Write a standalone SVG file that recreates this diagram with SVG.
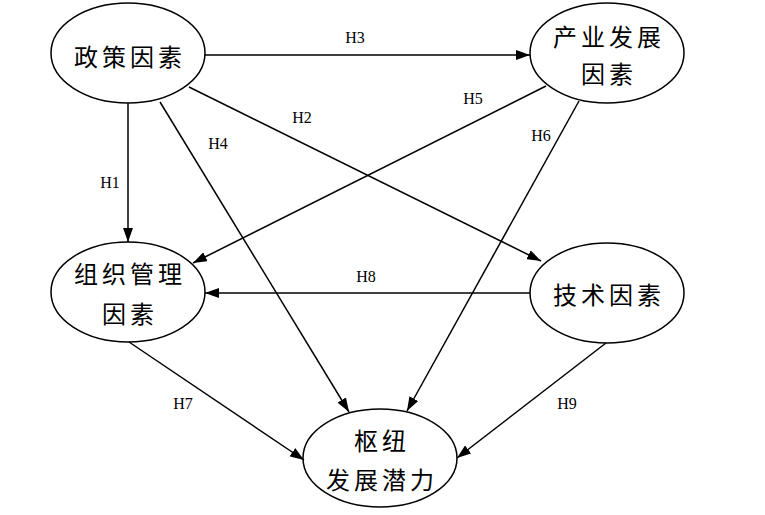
<svg xmlns="http://www.w3.org/2000/svg" width="765" height="515" viewBox="0 0 765 515">
<style>
.node ellipse{fill:#fff;stroke:#000;stroke-width:1.5}
.node text{font-family:"Noto Sans CJK SC","Noto Sans CJK TC",serif;font-size:24px;fill:#000;text-anchor:middle;dominant-baseline:central;letter-spacing:4px}
.edges line{stroke:#000;stroke-width:1.5;marker-end:url(#ah)}
.lbl{font-family:"Liberation Serif",serif;font-size:16px;fill:#000;text-anchor:middle;dominant-baseline:central}
</style>
<defs>
<marker id="ah" markerWidth="14" markerHeight="10" refX="14" refY="5" orient="auto" markerUnits="userSpaceOnUse">
<path d="M0,0 L14,5 L0,10 Z" fill="#000"/>
</marker>
</defs>
<rect width="765" height="515" fill="#fff"/>
<g id="policy" class="node">
<ellipse cx="128" cy="53" rx="77" ry="50"/>
<text x="130" y="55">政策因素</text>
</g>
<g id="industry" class="node">
<ellipse cx="607" cy="53" rx="77" ry="50"/>
<text x="609" y="35">产业发展</text>
<text x="609" y="72">因素</text>
</g>
<g id="org" class="node">
<ellipse cx="128" cy="292" rx="77" ry="50"/>
<text x="130" y="272">组织管理</text>
<text x="130" y="312">因素</text>
</g>
<g id="tech" class="node">
<ellipse cx="607" cy="293" rx="77" ry="50"/>
<text x="609" y="293">技术因素</text>
</g>
<g id="hub" class="node">
<ellipse cx="380" cy="458" rx="77" ry="49"/>
<text x="382" y="439">枢纽</text>
<text x="382" y="478">发展潜力</text>
</g>
<g class="edges">
<line x1="205" y1="55" x2="530" y2="55"/>
<line x1="128" y1="103" x2="128" y2="242"/>
<line x1="189" y1="87" x2="541" y2="261"/>
<line x1="160" y1="102" x2="349" y2="412"/>
<line x1="546" y1="86" x2="193" y2="263"/>
<line x1="579" y1="101" x2="407" y2="411"/>
<line x1="530" y1="293" x2="205" y2="293"/>
<line x1="129" y1="342" x2="304" y2="460"/>
<line x1="606" y1="343" x2="457" y2="458"/>
</g>
<g class="labels">
<text class="lbl" x="355" y="37">H3</text>
<text class="lbl" x="302" y="117">H2</text>
<text class="lbl" x="473" y="98">H5</text>
<text class="lbl" x="218" y="143">H4</text>
<text class="lbl" x="541" y="135">H6</text>
<text class="lbl" x="110" y="182">H1</text>
<text class="lbl" x="366" y="276">H8</text>
<text class="lbl" x="183" y="403">H7</text>
<text class="lbl" x="567" y="403">H9</text>
</g>
</svg>
